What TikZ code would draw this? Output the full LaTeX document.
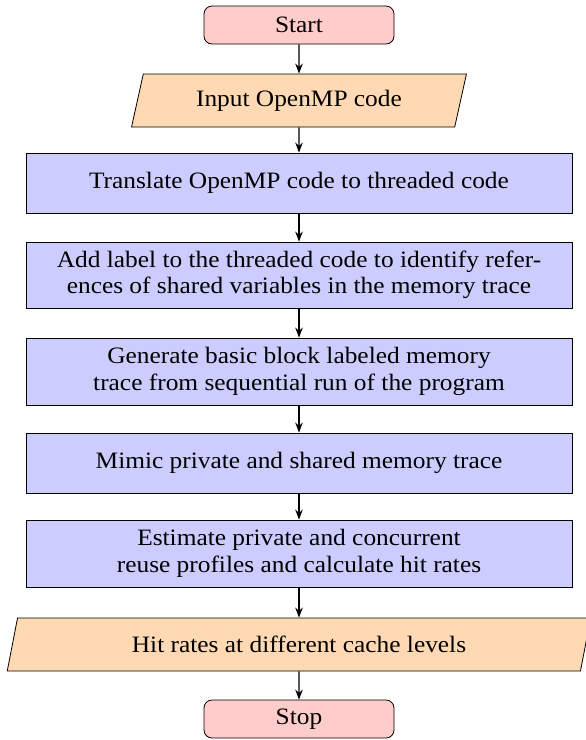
\documentclass[tikz,border=0pt]{standalone}
\usepackage{fontspec}
\setmainfont[FakeStretch=1.08]{Liberation Serif}
\usetikzlibrary{shapes.geometric,arrows.meta}
\definecolor{termfill}{RGB}{255,204,204}
\definecolor{iofill}{RGB}{255,217,179}
\definecolor{procfill}{RGB}{204,204,255}
\begin{document}
\begin{tikzpicture}[x=1pt,y=-1pt,
  every node/.style={font=\fontsize{23.5}{26.5}\selectfont, inner sep=0pt},
  term/.style={draw, line width=0.8pt, rounded corners=8pt, fill=termfill, minimum width=190pt, minimum height=38pt},
  iobox/.style={draw, line width=0.8pt, trapezium, trapezium left angle=70, trapezium right angle=110, trapezium stretches=true, fill=iofill, minimum height=53pt},
  proc/.style={draw, line width=0.8pt, fill=procfill, minimum width=546pt, align=center},
  flow/.style={-{Stealth[length=10pt,width=7.5pt]}, line width=1.4pt}
]
\useasboundingbox (0,0) rectangle (586,740);
\node[term] (start) at (299,25) {Start};
\node[iobox, minimum width=335pt] (in) at (299,100.5) {Input OpenMP code};
\node[proc, minimum height=60pt] (p1) at (299,183) {Translate OpenMP code to threaded code};
\node[proc, minimum height=66pt] (p2) at (299,275) {Add label to the threaded code to identify refer-\\ences of shared variables in the memory trace};
\node[proc, minimum height=67pt] (p3) at (299,371.5) {Generate basic block labeled memory\\trace from sequential run of the program};
\node[proc, minimum height=60pt] (p4) at (299,463) {Mimic private and shared memory trace};
\node[proc, minimum height=67pt] (p5) at (299,553.5) {Estimate private and concurrent\\reuse profiles and calculate hit rates};
\node[iobox, minimum width=584pt] (out) at (299,644.5) {Hit rates at different cache levels};
\node[term] (stop) at (299,719) {Stop};
\draw[flow] (start) -- (in);
\draw[flow] (in) -- (p1);
\draw[flow] (p1) -- (p2);
\draw[flow] (p2) -- (p3);
\draw[flow] (p3) -- (p4);
\draw[flow] (p4) -- (p5);
\draw[flow] (p5) -- (out);
\draw[flow] (out) -- (stop);
\end{tikzpicture}
\end{document}
